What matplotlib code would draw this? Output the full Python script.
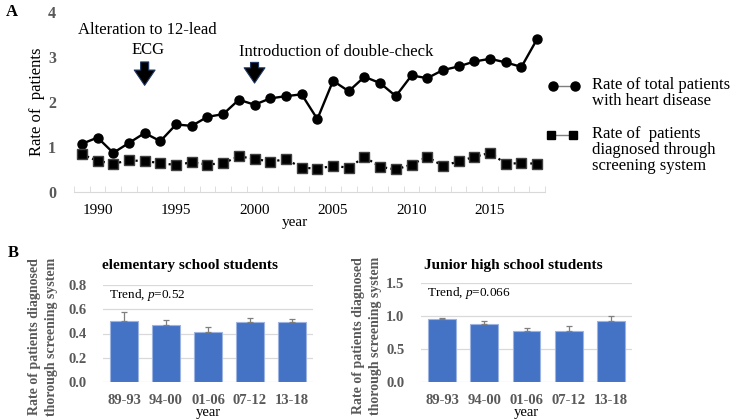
import numpy as np
import matplotlib
matplotlib.use("Agg")
import matplotlib.pyplot as plt
from matplotlib.lines import Line2D

plt.rcParams['font.family'] = ['Liberation Serif', 'DejaVu Serif']
plt.rcParams['mathtext.fontset'] = 'custom'
plt.rcParams['mathtext.rm'] = 'Liberation Serif'
plt.rcParams['mathtext.it'] = 'Liberation Serif:italic'

# ---- data, panel A ----
years = list(range(1989, 2019))
total_rate = [1.07, 1.21, 0.87, 1.09, 1.31, 1.13, 1.50, 1.47, 1.67, 1.73,
              2.05, 1.94, 2.08, 2.13, 2.17, 1.62, 2.47, 2.24, 2.56, 2.42,
              2.13, 2.59, 2.53, 2.71, 2.79, 2.90, 2.96, 2.88, 2.78, 3.40]
screen_rate = [0.84, 0.69, 0.63, 0.70, 0.69, 0.64, 0.60, 0.66, 0.61, 0.64,
               0.79, 0.74, 0.67, 0.73, 0.54, 0.52, 0.58, 0.54, 0.78, 0.56,
               0.50, 0.61, 0.78, 0.58, 0.68, 0.78, 0.87, 0.63, 0.64, 0.63]
year_ticks = [1990, 1995, 2000, 2005, 2010, 2015]
legend_labels = ["Rate of total patients\nwith heart disease",
                 "Rate of  patients\ndiagnosed through\nscreening system"]

# ---- data, panel B ----
periods = ["89-93", "94-00", "01-06", "07-12", "13-18"]
elem_rate = [0.505, 0.474, 0.411, 0.494, 0.491]
elem_err = [0.072, 0.040, 0.044, 0.030, 0.025]
junior_rate = [0.951, 0.880, 0.768, 0.778, 0.925]
junior_err = [0.025, 0.045, 0.045, 0.070, 0.075]

W, H = 730, 420
gray = "#595959"
blue = "#4472C4"


def box(x0, y0, x1, y1):
    # pixel box (top-left origin) -> figure fraction rect
    return [x0 / W, 1 - y1 / H, (x1 - x0) / W, (y1 - y0) / H]


def fx(x):
    return x / W


def fy(y):
    return 1 - y / H


fig = plt.figure(figsize=(7.3, 4.2), dpi=100)

# ================= panel A =================
ax = fig.add_axes(box(74, 12, 545, 192))
ax.plot(years, total_rate, color="black", lw=1.7, marker="o", markersize=6.5,
        markerfacecolor="black", markeredgecolor="black")
ax.plot(years, screen_rate, color="black", lw=1.6, linestyle=(0, (1, 1.5)),
        marker="s", markersize=6.8, markerfacecolor="black", markeredgecolor="#404040")
ax.set_xlim(1988.5, 2018.5)
ax.set_ylim(0, 4)
ax.set_yticks([0, 1, 2, 3, 4])
ax.set_xticks(year_ticks)
ax.set_xticks(np.arange(1988.5, 2019.0, 1.0), minor=True)
ax.tick_params(axis="x", which="major", length=0, labelsize=11, pad=9)
ax.tick_params(axis="x", which="minor", length=4, color="#d9d9d9", direction="in")
ax.tick_params(axis="y", length=0, labelsize=11.5, labelcolor=gray, pad=13)
for lab in ax.get_yticklabels():
    lab.set_fontweight("bold")
for s in ["top", "right", "left"]:
    ax.spines[s].set_visible(False)
ax.spines["bottom"].set_color("#d9d9d9")
ax.set_xlabel("year", fontsize=11)
ax.xaxis.set_label_coords((295 - 74) / 471, -0.135)
ax.set_ylabel("Rate of  patients", fontsize=12)
ax.yaxis.set_label_coords((45 - 74) / 471, 0.5)

ax.text(1993.2, 3.6, "Alteration to 12-lead", fontsize=12, ha="center", va="center")
ax.text(1993.2, 3.15, "ECG", fontsize=12, ha="center", va="center")
ax.text(2005.2, 3.12, "Introduction of double-check", fontsize=12, ha="center", va="center")

arrow_style = dict(arrowstyle="simple,head_width=1.5,head_length=1.1,tail_width=0.58",
                   mutation_scale=10, fc="black", ec="#1f3864", lw=0.8,
                   shrinkA=0, shrinkB=0)
ax.annotate("", xy=(1993, 2.37), xytext=(1993, 2.89), arrowprops=arrow_style)
ax.annotate("", xy=(2000, 2.42), xytext=(2000, 2.88), arrowprops=arrow_style)

# legend drawn by hand so the handle sits on the first text line
legend_rows = [(553, 575, 86, "o", 6.5), (551, 573, 135, "s", 6.0)]
for (x1, x2, y, mk, ms), lab in zip(legend_rows, legend_labels):
    fig.add_artist(Line2D([fx(x1), fx(x2)], [fy(y), fy(y)], transform=fig.transFigure,
                          color="#7f7f7f", lw=1.0, marker=mk, markersize=ms,
                          markerfacecolor="black", markeredgecolor="black"))
    fig.text(fx(592), fy(y - 9), lab, fontsize=12, va="top", ha="left", linespacing=1.02)

fig.text(fx(6), fy(12), "A", fontsize=12, fontweight="bold", va="center")
fig.text(fx(8), fy(253), "B", fontsize=12, fontweight="bold", va="center")


# ================= panel B =================
def bar_panel(rect, values, errs, ymax, step, title, trend, title_x, ylab_x):
    bx = fig.add_axes(rect)
    pos = np.arange(len(periods))
    bx.bar(pos, values, width=0.66, color=blue, edgecolor="#9db4e0", linewidth=0.8,
           zorder=3)
    bx.errorbar(pos, values, yerr=[np.zeros(len(errs)), errs], fmt="none",
                ecolor="#7f7f7f", elinewidth=0.9, capsize=2, capthick=0.9, zorder=4)
    bx.set_xlim(-0.5, len(periods) - 0.5)
    bx.set_ylim(0, ymax)
    ticks = np.arange(0, ymax + step / 2, step)
    bx.set_yticks(ticks)
    bx.set_yticklabels(["%.1f" % v for v in ticks])
    bx.set_xticks(pos)
    bx.set_xticklabels(periods)
    bx.yaxis.grid(True, color="#d9d9d9", lw=0.9, zorder=0)
    bx.set_axisbelow(True)
    for s in bx.spines.values():
        s.set_visible(False)
    bx.tick_params(length=0, labelsize=10.5, labelcolor=gray, pad=9)
    bx.tick_params(axis="y", pad=12)
    for lab in bx.get_xticklabels() + bx.get_yticklabels():
        lab.set_fontweight("bold")
    bx.set_xlabel("year", fontsize=10.5, labelpad=-1)
    bx.text(0.03, 0.9, trend, transform=bx.transAxes, fontsize=9.5, va="center")
    fig.text(fx(title_x), fy(265), title, fontsize=11, fontweight="bold", va="center")
    fig.text(fx(ylab_x), (rect[1] + rect[3] / 2) - 0.008,
             "Rate of patients diagnosed\nthorough screening system",
             rotation=90, fontsize=10, fontweight="bold", color=gray,
             ha="center", va="center", linespacing=1.35, multialignment="center")
    return bx


bar_panel(box(103, 285, 313, 382), elem_rate, elem_err, 0.8, 0.2,
          "elementary school students", r"Trend, $\it{p}$=0.52", 102, 43)
bar_panel(box(421, 283, 632, 382), junior_rate, junior_err, 1.5, 0.5,
          "Junior high school students", r"Trend, $\it{p}$=0.066", 424, 367)

plt.savefig("out.png", dpi=100)
